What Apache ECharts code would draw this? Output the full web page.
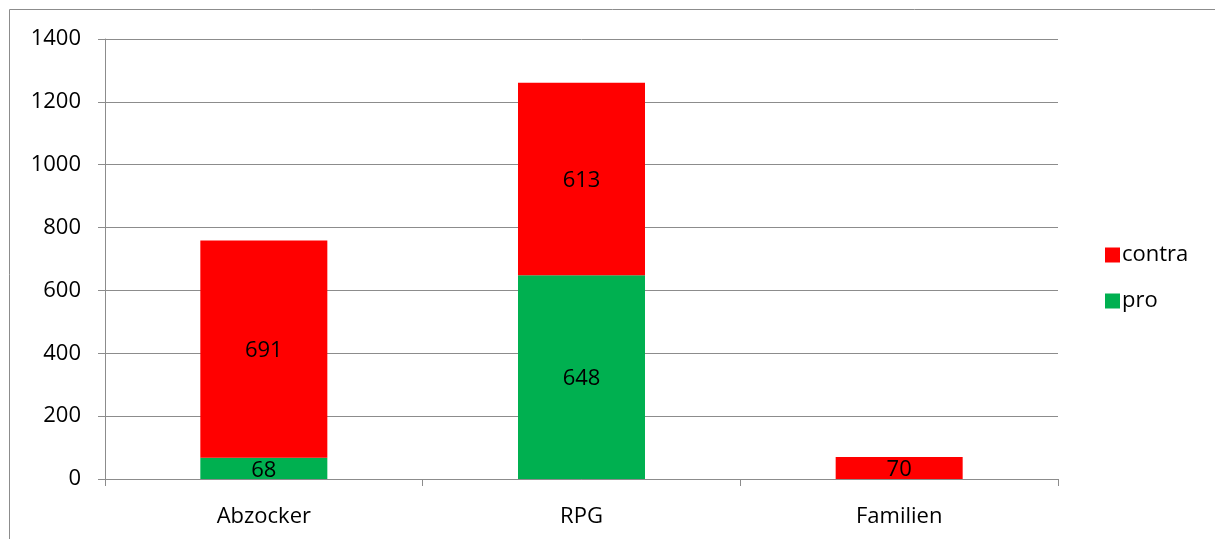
<!DOCTYPE html>
<html>
<head>
<meta charset="utf-8">
<script src="https://cdn.jsdelivr.net/npm/echarts@6/dist/echarts.min.js"></script>
<style>
  html, body { margin: 0; padding: 0; background: #fff; }
  #chart { width: 1215px; height: 539px; }
</style>
</head>
<body>
<div id="chart"></div>
<script>
// Kategorien und Werte
const categories = ['Abzocker', 'RPG', 'Familien'];
const proValues = [68, 648, 0];
const contraValues = [691, 613, 70];
const yTicks = { min: 0, max: 1400, interval: 200 };

const font = '"Open Sans", "Noto Sans", sans-serif';

const chart = echarts.init(document.getElementById('chart'));

const labelStyle = {
  show: true,
  position: 'inside',
  color: '#000',
  fontSize: 22,
  fontFamily: font,
  offset: [0, 2],
  formatter: (p) => (p.value ? String(p.value) : '')
};

chart.setOption({
  animation: false,
  textStyle: { fontFamily: font },
  graphic: [{
    type: 'rect',
    shape: { x: 9.5, y: 9.5, width: 1220, height: 540 },
    style: { fill: 'none', stroke: '#8c8c8c', lineWidth: 1 },
    silent: true
  }],
  grid: { left: 105, right: 157, top: 39, bottom: 60, containLabel: false },
  legend: {
    orient: 'vertical',
    left: 1100,
    top: 239,
    itemWidth: 15,
    itemHeight: 15,
    itemGap: 24,
    icon: 'rect',
    data: ['contra', 'pro'],
    textStyle: { fontSize: 22, color: '#000', fontFamily: font, padding: [0, 0, 0, -3] }
  },
  xAxis: {
    type: 'category',
    data: categories,
    axisLine: { lineStyle: { color: '#8c8c8c' } },
    axisTick: { show: true, length: 7, lineStyle: { color: '#8c8c8c' } },
    axisLabel: { color: '#000', fontSize: 22, margin: 27, fontFamily: font }
  },
  yAxis: {
    type: 'value',
    min: yTicks.min,
    max: yTicks.max,
    interval: yTicks.interval,
    axisLine: { show: true, lineStyle: { color: '#8c8c8c' } },
    axisTick: { show: true, length: 7, lineStyle: { color: '#8c8c8c' } },
    axisLabel: {
      color: '#000', fontSize: 22, margin: 24, fontFamily: font,
      formatter: (v) => String(v)
    },
    splitLine: { lineStyle: { color: '#8c8c8c' } }
  },
  series: [
    {
      name: 'pro',
      type: 'bar',
      stack: 'total',
      barWidth: 127,
      data: proValues,
      itemStyle: { color: '#00b050' },
      label: labelStyle
    },
    {
      name: 'contra',
      type: 'bar',
      stack: 'total',
      barWidth: 127,
      data: contraValues,
      itemStyle: { color: '#ff0000' },
      label: labelStyle
    }
  ]
});
</script>
</body>
</html>
